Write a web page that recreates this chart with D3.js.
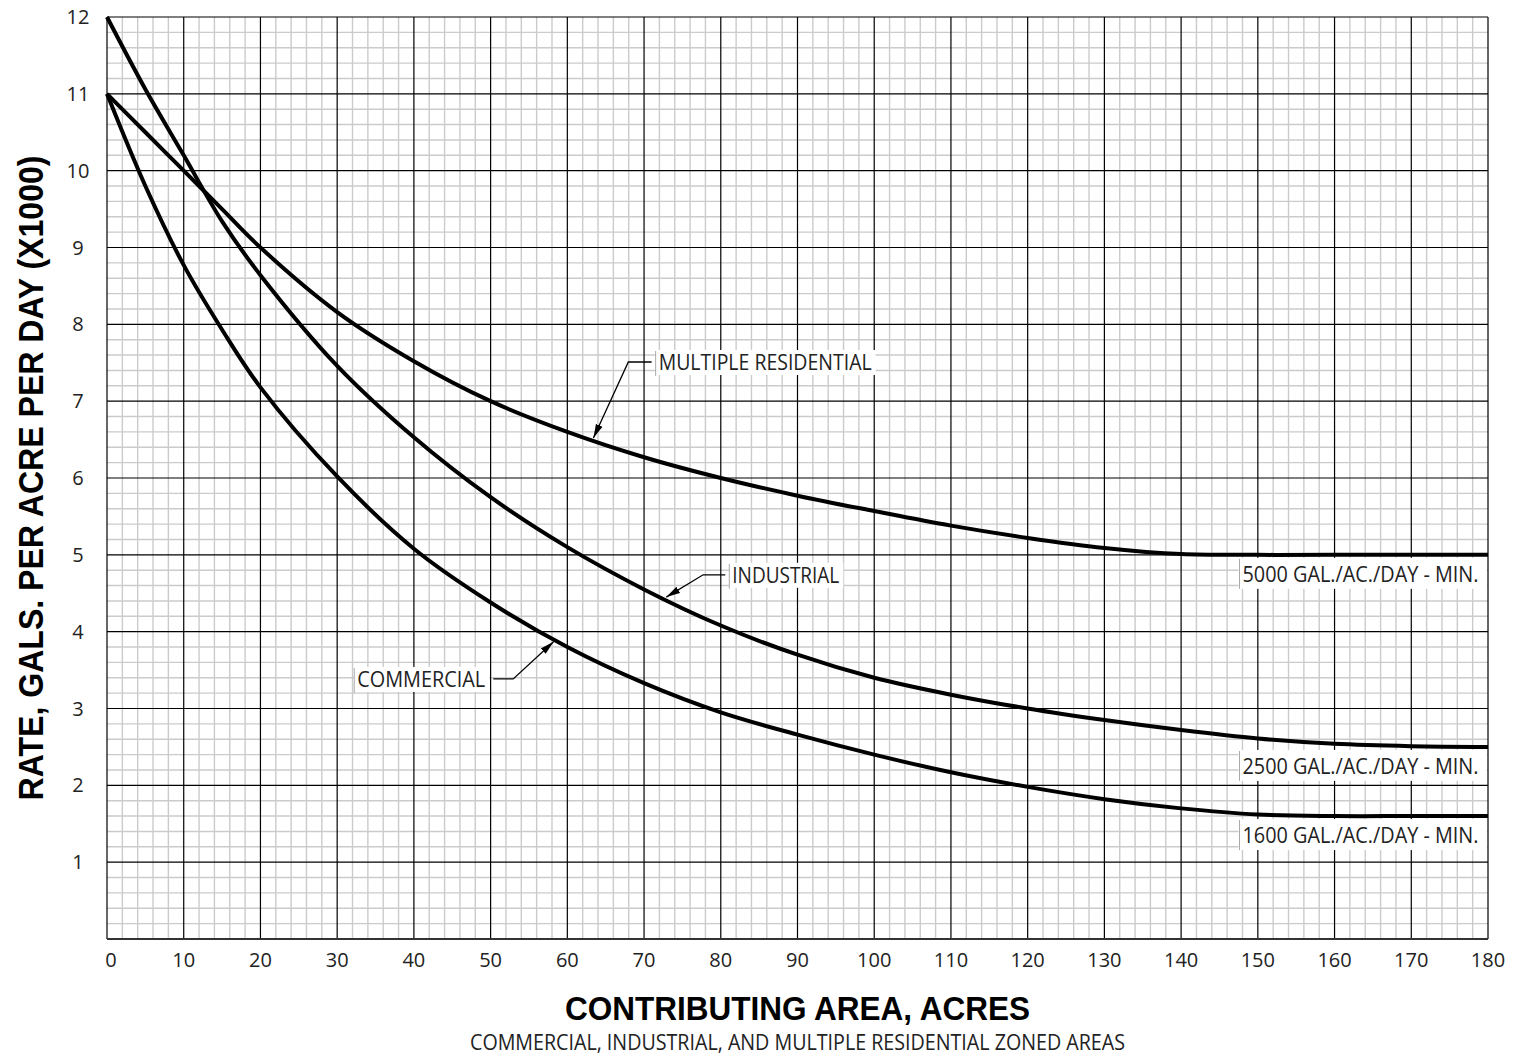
<!DOCTYPE html>
<html>
<head>
<meta charset="utf-8">
<script src="https://cdn.jsdelivr.net/npm/d3@7"></script>
<style>
  html, body { margin: 0; padding: 0; background: #fff; }
  svg { display: block; }
</style>
</head>
<body>
<svg id="chart" width="1513" height="1057"></svg>
<script>
// ---------------- DATA ----------------
const areaAcres = [0, 5, 10, 15, 20, 30, 40, 50, 60, 70, 80, 90, 100, 110, 120, 130, 140, 150, 160, 170, 180];
const multipleResidential = [11, 10.5, 10.0, 9.5, 9.0, 8.16, 7.52, 7.0, 6.6, 6.27, 6.0, 5.77, 5.57, 5.38, 5.22, 5.09, 5.01, 5.0, 5.0, 5.0, 5.0];
const industrial = [12, 11.06, 10.2, 9.34, 8.64, 7.46, 6.53, 5.75, 5.10, 4.55, 4.08, 3.70, 3.40, 3.18, 3.00, 2.85, 2.72, 2.61, 2.54, 2.51, 2.50];
const commercial = [11, 9.8, 8.77, 7.93, 7.18, 6.02, 5.08, 4.38, 3.80, 3.33, 2.95, 2.66, 2.40, 2.17, 1.98, 1.82, 1.70, 1.62, 1.60, 1.60, 1.60];

const xTickLabels = [0, 10, 20, 30, 40, 50, 60, 70, 80, 90, 100, 110, 120, 130, 140, 150, 160, 170, 180];
const yTickLabels = [1, 2, 3, 4, 5, 6, 7, 8, 9, 10, 11, 12];

const seriesNames = ["MULTIPLE RESIDENTIAL", "INDUSTRIAL", "COMMERCIAL"];
const minimumLabels = ["5000 GAL./AC./DAY - MIN.", "2500 GAL./AC./DAY - MIN.", "1600 GAL./AC./DAY - MIN."];
const minimumValues = [5.0, 2.5, 1.6];

const xTitle = "CONTRIBUTING AREA, ACRES";
const xSubtitle = "COMMERCIAL, INDUSTRIAL, AND MULTIPLE RESIDENTIAL ZONED AREAS";
const yTitle = "RATE, GALS. PER ACRE PER DAY (X1000)";

// ---------------- LAYOUT ----------------
const svg = d3.select("#chart");
const plot = { left: 107, right: 1488, top: 17, bottom: 939 };
const x = d3.scaleLinear().domain([0, 180]).range([plot.left, plot.right]);
const y = d3.scaleLinear().domain([0, 12]).range([plot.bottom, plot.top]);

// minor grid
const gMinor = svg.append("g");
gMinor.selectAll("line.vx").data(d3.range(0, 181, 2).filter(v => v % 10 !== 0))
  .join("line")
  .attr("x1", d => x(d)).attr("x2", d => x(d))
  .attr("y1", y(0)).attr("y2", y(12))
  .attr("stroke", "#cbcbcb").attr("stroke-width", 1.4);
gMinor.selectAll("line.hy").data(d3.range(1, 60).map(i => i / 5).filter((v, i) => (i + 1) % 5 !== 0))
  .join("line")
  .attr("x1", x(0)).attr("x2", x(180))
  .attr("y1", d => y(d)).attr("y2", d => y(d))
  .attr("stroke", "#cbcbcb").attr("stroke-width", 1.4);

// major grid
const gMajor = svg.append("g");
gMajor.selectAll("line.mx").data(xTickLabels)
  .join("line")
  .attr("x1", d => x(d)).attr("x2", d => x(d))
  .attr("y1", y(0)).attr("y2", y(12))
  .attr("stroke", "#000").attr("stroke-width", 1.2);
gMajor.selectAll("line.my").data(yTickLabels)
  .join("line")
  .attr("x1", x(0)).attr("x2", x(180))
  .attr("y1", d => y(d)).attr("y2", d => y(d))
  .attr("stroke", "#000").attr("stroke-width", 1.2);
// bottom axis line
svg.append("line")
  .attr("x1", x(0)).attr("x2", x(180)).attr("y1", y(0)).attr("y2", y(0))
  .attr("stroke", "#333").attr("stroke-width", 2);

// tick labels
svg.append("g").selectAll("text").data(xTickLabels).join("text")
  .attr("x", d => x(d) + (d === 0 ? 4 : 0))
  .attr("y", y(0) + 28)
  .attr("text-anchor", "middle")
  .attr("font-family", "'Open Sans', 'Noto Sans', sans-serif")
  .attr("font-size", 20).attr("fill", "#222")
  .text(d => d);
svg.append("g").selectAll("text").data(yTickLabels).join("text")
  .attr("x", 78)
  .attr("y", d => y(d) + 7)
  .attr("text-anchor", "middle")
  .attr("font-family", "'Open Sans', 'Noto Sans', sans-serif")
  .attr("font-size", 20).attr("fill", "#222")
  .text(d => d);

// curves
const series = [multipleResidential, industrial, commercial];
const line = d3.line().x((d, i) => x(areaAcres[i])).y(d => y(d)).curve(d3.curveCatmullRom.alpha(0.5));
svg.append("g").selectAll("path").data(series).join("path")
  .attr("d", d => line(d))
  .attr("fill", "none").attr("stroke", "#000").attr("stroke-width", 4)
  .attr("stroke-linejoin", "round");

// arrow marker
svg.append("defs").append("marker")
  .attr("id", "arrow").attr("markerUnits", "userSpaceOnUse")
  .attr("viewBox", "0 -5 14 10").attr("refX", 14).attr("refY", 0)
  .attr("markerWidth", 14).attr("markerHeight", 10).attr("orient", "auto")
  .append("path").attr("d", "M0,-3.6L14,0L0,3.6Z").attr("fill", "#000");

// annotations (layout in data units)
const annotations = [
  { name: seriesNames[0], tip: [63.4, 6.52], elbow: [67.95, 7.51], textX: 71.9, side: "right", len: 213 },
  { name: seriesNames[1], tip: [72.9, 4.45], elbow: [77.7, 4.74], textX: 81.5, side: "right", len: 107 },
  { name: seriesNames[2], tip: [58.2, 3.87], elbow: [52.95, 3.385], textX: 49.3, side: "left", len: 128 }
];
const gAnn = svg.append("g");
annotations.forEach(a => {
  const ex = x(a.elbow[0]), ey = y(a.elbow[1]);
  const tx = x(a.textX);
  const left = a.side === "right" ? tx : tx - a.len;
  gAnn.append("rect")
    .attr("x", left - 3).attr("y", ey - 12).attr("width", a.len + 7).attr("height", 25)
    .attr("fill", "#fff");
  gAnn.append("line")
    .attr("x1", left - 3).attr("x2", left - 3).attr("y1", ey - 11).attr("y2", ey + 14)
    .attr("stroke", "#aaa").attr("stroke-width", 1);
  gAnn.append("text")
    .attr("x", left).attr("y", ey + 8)
    .attr("font-family", "'Open Sans', 'Noto Sans', sans-serif")
    .attr("font-size", 22).attr("fill", "#222")
    .attr("textLength", a.len).attr("lengthAdjust", "spacingAndGlyphs")
    .text(a.name);
  const hx = a.side === "right" ? left - 7 : left + a.len + 8;
  gAnn.append("path")
    .attr("d", `M${hx},${ey}L${ex},${ey}L${x(a.tip[0])},${y(a.tip[1])}`)
    .attr("fill", "none").attr("stroke", "#000").attr("stroke-width", 1.3)
    .attr("marker-end", "url(#arrow)");
});

// minimum labels
const minX = 148.0;
const gMin = svg.append("g");
minimumLabels.forEach((t, i) => {
  const ly = y(minimumValues[i]);
  gMin.append("rect")
    .attr("x", x(minX) - 4).attr("y", ly + 3).attr("width", x(180) - x(minX) + 3).attr("height", 31)
    .attr("fill", "#fff");
  gMin.append("line")
    .attr("x1", x(minX) - 3).attr("x2", x(minX) - 3).attr("y1", ly + 4).attr("y2", ly + 34)
    .attr("stroke", "#aaa").attr("stroke-width", 1);
  gMin.append("text")
    .attr("x", x(minX)).attr("y", ly + 27)
    .attr("font-family", "'Open Sans', 'Noto Sans', sans-serif")
    .attr("font-size", 21).attr("fill", "#222")
    .attr("textLength", 236).attr("lengthAdjust", "spacingAndGlyphs")
    .text(t);
});

// titles
svg.append("text")
  .attr("x", (plot.left + plot.right) / 2).attr("y", 1020)
  .attr("text-anchor", "middle")
  .attr("font-family", "'Liberation Sans', Arial, sans-serif")
  .attr("font-weight", "bold").attr("font-size", 33).attr("fill", "#000")
  .attr("textLength", 465).attr("lengthAdjust", "spacingAndGlyphs")
  .text(xTitle);
svg.append("text")
  .attr("x", (plot.left + plot.right) / 2).attr("y", 1050)
  .attr("text-anchor", "middle")
  .attr("font-family", "'Open Sans', 'Noto Sans', sans-serif")
  .attr("font-size", 21).attr("fill", "#222")
  .attr("textLength", 655).attr("lengthAdjust", "spacingAndGlyphs")
  .text(xSubtitle);
svg.append("text")
  .attr("transform", "translate(43,478) rotate(-90)")
  .attr("text-anchor", "middle")
  .attr("font-family", "'Liberation Sans', Arial, sans-serif")
  .attr("font-weight", "bold").attr("font-size", 35).attr("fill", "#000")
  .attr("textLength", 645).attr("lengthAdjust", "spacingAndGlyphs")
  .text(yTitle);
</script>
</body>
</html>
